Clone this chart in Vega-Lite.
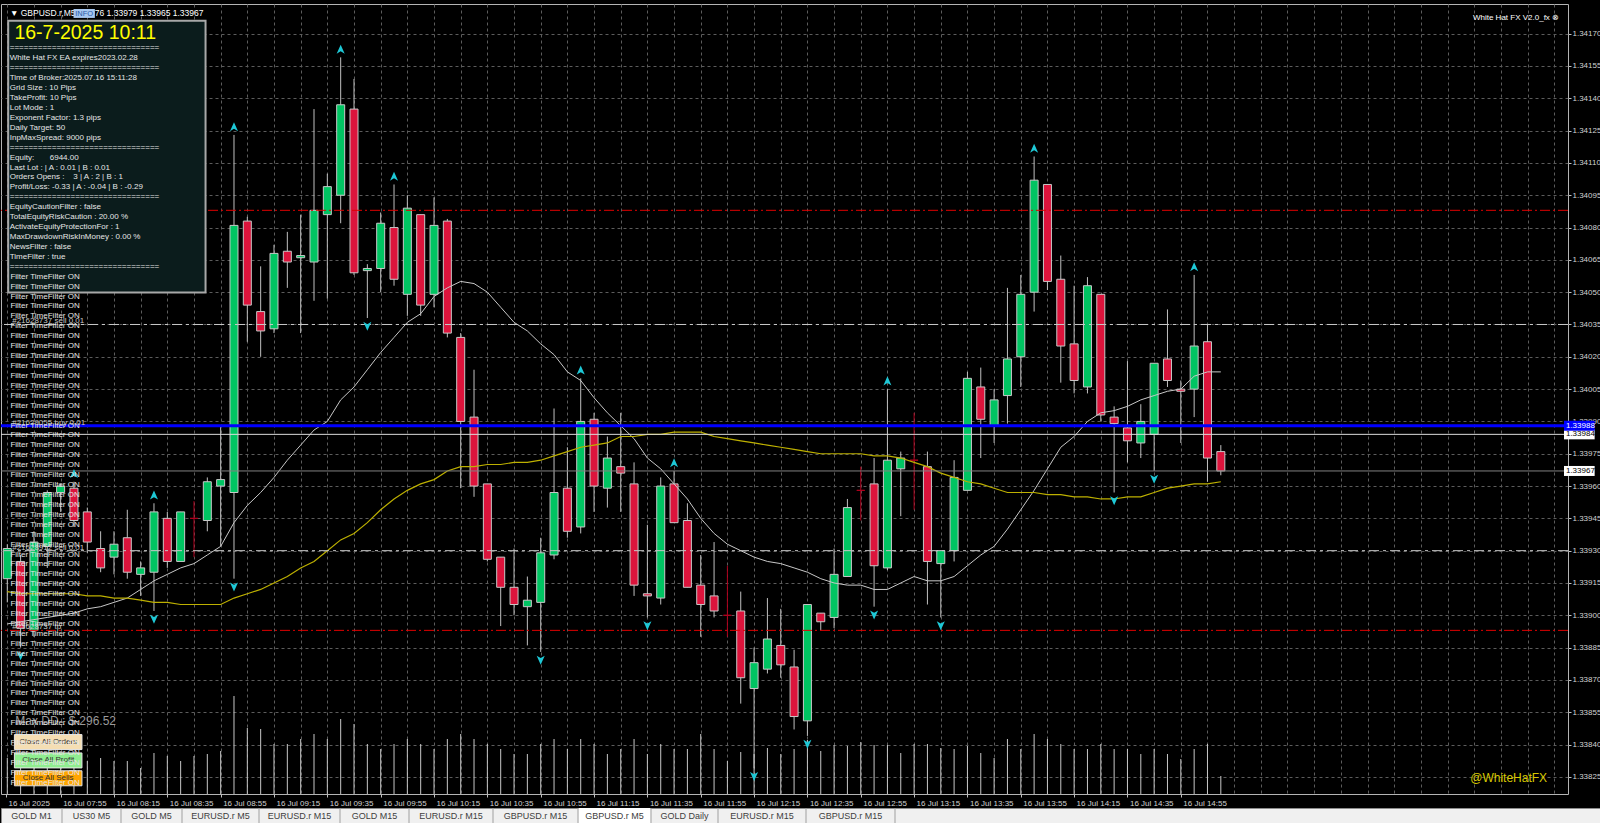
{
"$schema": "https://vega.github.io/schema/vega-lite/v6.json",
"background": "#000000",
"padding": {"left": 0, "top": 3, "right": 0, "bottom": 0},
"bounds": "flush",
"spacing": 14,
"config": {"font": "Liberation Sans", "view": {"stroke": null}},
"datasets": {
"bars": [
{"t":"2025-07-16T07:35","o":1.33917,"h":1.33933,"l":1.33906,"c":1.33931,"v":72,"mw":1.33896,"my":1.33911},
{"t":"2025-07-16T07:40","o":1.33925,"h":1.33928,"l":1.33885,"c":1.33894,"v":80,"mw":1.33897,"my":1.3391,"fd":1},
{"t":"2025-07-16T07:45","o":1.33893,"h":1.33939,"l":1.3389,"c":1.33934,"v":76,"mw":1.33898,"my":1.3391},
{"t":"2025-07-16T07:50","o":1.33932,"h":1.33958,"l":1.33922,"c":1.33957,"v":70,"mw":1.33899,"my":1.3391},
{"t":"2025-07-16T07:55","o":1.33957,"h":1.33961,"l":1.33948,"c":1.3396,"v":74,"mw":1.339,"my":1.3391},
{"t":"2025-07-16T08:00","o":1.33959,"h":1.33962,"l":1.33941,"c":1.33944,"v":78,"mw":1.33901,"my":1.3391,"fu":1},
{"t":"2025-07-16T08:05","o":1.33948,"h":1.3395,"l":1.33929,"c":1.33934,"v":66,"mw":1.33903,"my":1.33909},
{"t":"2025-07-16T08:10","o":1.33931,"h":1.33939,"l":1.3392,"c":1.33922,"v":72,"mw":1.33904,"my":1.33909},
{"t":"2025-07-16T08:15","o":1.33927,"h":1.33939,"l":1.33919,"c":1.33933,"v":66,"mw":1.33906,"my":1.33908},
{"t":"2025-07-16T08:20","o":1.33936,"h":1.33949,"l":1.33917,"c":1.3392,"v":66,"mw":1.33908,"my":1.33908},
{"t":"2025-07-16T08:25","o":1.33919,"h":1.33925,"l":1.33909,"c":1.33922,"v":52,"mw":1.33912,"my":1.33907},
{"t":"2025-07-16T08:30","o":1.3392,"h":1.33952,"l":1.33902,"c":1.33948,"v":82,"mw":1.33916,"my":1.33906,"fu":1,"fd":1},
{"t":"2025-07-16T08:35","o":1.33945,"h":1.33948,"l":1.33922,"c":1.33925,"v":76,"mw":1.33919,"my":1.33906},
{"t":"2025-07-16T08:40","o":1.33925,"h":1.33948,"l":1.33925,"c":1.33948,"v":66,"mw":1.33922,"my":1.33905},
{"t":"2025-07-16T08:45","o":1.33945,"h":1.33953,"l":1.33927,"c":1.33945,"v":76,"mw":1.33924,"my":1.33905},
{"t":"2025-07-16T08:50","o":1.33944,"h":1.33964,"l":1.33939,"c":1.33962,"v":80,"mw":1.33928,"my":1.33905},
{"t":"2025-07-16T08:55","o":1.3396,"h":1.33988,"l":1.33932,"c":1.33963,"v":86,"mw":1.33932,"my":1.33905},
{"t":"2025-07-16T09:00","o":1.33957,"h":1.34123,"l":1.33917,"c":1.34081,"v":196,"mw":1.33943,"my":1.33908,"fu":1,"fd":1},
{"t":"2025-07-16T09:05","o":1.34083,"h":1.34085,"l":1.34027,"c":1.34044,"v":132,"mw":1.33951,"my":1.3391},
{"t":"2025-07-16T09:10","o":1.34041,"h":1.34062,"l":1.3402,"c":1.34032,"v":130,"mw":1.33957,"my":1.33912},
{"t":"2025-07-16T09:15","o":1.34033,"h":1.34072,"l":1.34031,"c":1.34068,"v":100,"mw":1.33964,"my":1.33915},
{"t":"2025-07-16T09:20","o":1.34069,"h":1.34078,"l":1.34052,"c":1.34064,"v":100,"mw":1.33972,"my":1.33918},
{"t":"2025-07-16T09:25","o":1.34066,"h":1.34086,"l":1.34031,"c":1.34067,"v":110,"mw":1.33979,"my":1.33922},
{"t":"2025-07-16T09:30","o":1.34064,"h":1.34135,"l":1.34046,"c":1.34088,"v":120,"mw":1.33986,"my":1.33925},
{"t":"2025-07-16T09:35","o":1.34086,"h":1.34105,"l":1.34047,"c":1.34099,"v":110,"mw":1.3399,"my":1.3393},
{"t":"2025-07-16T09:40","o":1.34095,"h":1.34159,"l":1.34082,"c":1.34137,"v":150,"mw":1.34,"my":1.33935,"fu":1},
{"t":"2025-07-16T09:45","o":1.34135,"h":1.34149,"l":1.34058,"c":1.34059,"v":140,"mw":1.34006,"my":1.33938},
{"t":"2025-07-16T09:50","o":1.3406,"h":1.34063,"l":1.34038,"c":1.34061,"v":100,"mw":1.34014,"my":1.33943,"fd":1},
{"t":"2025-07-16T09:55","o":1.34061,"h":1.34087,"l":1.3405,"c":1.34082,"v":90,"mw":1.34022,"my":1.33949},
{"t":"2025-07-16T10:00","o":1.3408,"h":1.341,"l":1.34053,"c":1.34056,"v":100,"mw":1.34029,"my":1.33954,"fu":1},
{"t":"2025-07-16T10:05","o":1.34049,"h":1.34095,"l":1.34039,"c":1.34089,"v":110,"mw":1.34036,"my":1.33958},
{"t":"2025-07-16T10:10","o":1.34086,"h":1.34086,"l":1.34039,"c":1.34044,"v":100,"mw":1.3404,"my":1.33961},
{"t":"2025-07-16T10:15","o":1.34049,"h":1.34094,"l":1.34043,"c":1.34081,"v":90,"mw":1.34048,"my":1.33963},
{"t":"2025-07-16T10:20","o":1.34083,"h":1.34084,"l":1.34029,"c":1.34031,"v":110,"mw":1.34052,"my":1.33967},
{"t":"2025-07-16T10:25","o":1.34029,"h":1.34031,"l":1.33959,"c":1.3399,"v":120,"mw":1.34055,"my":1.33969},
{"t":"2025-07-16T10:30","o":1.33992,"h":1.34014,"l":1.33955,"c":1.3396,"v":110,"mw":1.34054,"my":1.33969},
{"t":"2025-07-16T10:35","o":1.33961,"h":1.33961,"l":1.33925,"c":1.33926,"v":100,"mw":1.3405,"my":1.3397},
{"t":"2025-07-16T10:40","o":1.33927,"h":1.33927,"l":1.33895,"c":1.33913,"v":90,"mw":1.34043,"my":1.3397},
{"t":"2025-07-16T10:45","o":1.33913,"h":1.33931,"l":1.339,"c":1.33905,"v":80,"mw":1.34036,"my":1.33971},
{"t":"2025-07-16T10:50","o":1.33904,"h":1.33918,"l":1.33886,"c":1.33907,"v":80,"mw":1.34032,"my":1.33971},
{"t":"2025-07-16T10:55","o":1.33906,"h":1.33936,"l":1.33883,"c":1.33929,"v":100,"mw":1.34026,"my":1.33972,"fd":1},
{"t":"2025-07-16T11:00","o":1.33928,"h":1.33996,"l":1.33926,"c":1.33957,"v":110,"mw":1.34021,"my":1.33974},
{"t":"2025-07-16T11:05","o":1.33959,"h":1.33978,"l":1.33936,"c":1.33939,"v":90,"mw":1.34013,"my":1.33976},
{"t":"2025-07-16T11:10","o":1.33941,"h":1.3401,"l":1.33938,"c":1.3399,"v":110,"mw":1.34009,"my":1.33978,"fu":1},
{"t":"2025-07-16T11:15","o":1.33991,"h":1.33994,"l":1.33948,"c":1.3396,"v":100,"mw":1.34001,"my":1.33979},
{"t":"2025-07-16T11:20","o":1.33959,"h":1.33983,"l":1.3395,"c":1.33973,"v":80,"mw":1.33994,"my":1.3398},
{"t":"2025-07-16T11:25","o":1.33969,"h":1.33994,"l":1.33948,"c":1.33966,"v":90,"mw":1.33988,"my":1.33983},
{"t":"2025-07-16T11:30","o":1.33961,"h":1.33971,"l":1.33909,"c":1.33914,"v":110,"mw":1.33982,"my":1.33983},
{"t":"2025-07-16T11:35","o":1.3391,"h":1.33942,"l":1.33899,"c":1.33909,"v":80,"mw":1.33973,"my":1.33984,"fd":1},
{"t":"2025-07-16T11:40","o":1.33908,"h":1.33964,"l":1.33905,"c":1.3396,"v":100,"mw":1.33968,"my":1.33984},
{"t":"2025-07-16T11:45","o":1.33961,"h":1.33967,"l":1.33943,"c":1.33943,"v":90,"mw":1.33961,"my":1.33985,"fu":1},
{"t":"2025-07-16T11:50","o":1.33944,"h":1.33952,"l":1.33913,"c":1.33913,"v":90,"mw":1.33954,"my":1.33985},
{"t":"2025-07-16T11:55","o":1.33914,"h":1.33928,"l":1.3389,"c":1.33905,"v":120,"mw":1.33945,"my":1.33985},
{"t":"2025-07-16T12:00","o":1.33909,"h":1.33934,"l":1.33899,"c":1.33902,"v":90,"mw":1.33938,"my":1.33983},
{"t":"2025-07-16T12:05","o":1.339,"h":1.33923,"l":1.3389,"c":1.339,"v":66,"mw":1.33933,"my":1.33982},
{"t":"2025-07-16T12:10","o":1.33902,"h":1.33911,"l":1.33859,"c":1.33871,"v":84,"mw":1.3393,"my":1.33981},
{"t":"2025-07-16T12:15","o":1.33866,"h":1.33885,"l":1.33829,"c":1.33878,"v":80,"mw":1.33927,"my":1.3398,"fd":1},
{"t":"2025-07-16T12:20","o":1.33875,"h":1.33908,"l":1.33873,"c":1.33889,"v":92,"mw":1.33925,"my":1.33979},
{"t":"2025-07-16T12:25","o":1.33886,"h":1.33903,"l":1.33871,"c":1.33877,"v":80,"mw":1.33924,"my":1.33978},
{"t":"2025-07-16T12:30","o":1.33876,"h":1.33884,"l":1.33847,"c":1.33853,"v":90,"mw":1.33922,"my":1.33977},
{"t":"2025-07-16T12:35","o":1.33851,"h":1.33905,"l":1.33844,"c":1.33905,"v":108,"mw":1.3392,"my":1.33976,"fd":1},
{"t":"2025-07-16T12:40","o":1.33901,"h":1.33901,"l":1.33893,"c":1.33897,"v":86,"mw":1.33917,"my":1.33975},
{"t":"2025-07-16T12:45","o":1.33899,"h":1.33931,"l":1.33894,"c":1.33919,"v":98,"mw":1.33915,"my":1.33975},
{"t":"2025-07-16T12:50","o":1.33918,"h":1.33954,"l":1.33918,"c":1.3395,"v":96,"mw":1.33914,"my":1.33975},
{"t":"2025-07-16T12:55","o":1.33958,"h":1.33969,"l":1.33944,"c":1.33958,"v":104,"mw":1.33914,"my":1.33975},
{"t":"2025-07-16T13:00","o":1.33961,"h":1.33973,"l":1.33904,"c":1.33923,"v":98,"mw":1.33912,"my":1.33974,"fd":1},
{"t":"2025-07-16T13:05","o":1.33922,"h":1.34005,"l":1.33921,"c":1.33972,"v":98,"mw":1.33912,"my":1.33974,"fu":1},
{"t":"2025-07-16T13:10","o":1.33968,"h":1.33976,"l":1.33946,"c":1.33973,"v":82,"mw":1.33915,"my":1.33973},
{"t":"2025-07-16T13:15","o":1.33972,"h":1.33994,"l":1.33949,"c":1.33972,"v":100,"mw":1.33918,"my":1.33971},
{"t":"2025-07-16T13:20","o":1.33969,"h":1.33976,"l":1.33905,"c":1.33925,"v":100,"mw":1.33916,"my":1.33969},
{"t":"2025-07-16T13:25","o":1.33924,"h":1.3393,"l":1.33899,"c":1.3393,"v":92,"mw":1.33916,"my":1.33966,"fd":1},
{"t":"2025-07-16T13:30","o":1.3393,"h":1.33972,"l":1.33925,"c":1.33964,"v":90,"mw":1.33918,"my":1.33964},
{"t":"2025-07-16T13:35","o":1.33958,"h":1.34013,"l":1.33958,"c":1.3401,"v":96,"mw":1.33923,"my":1.33962},
{"t":"2025-07-16T13:40","o":1.34006,"h":1.34015,"l":1.33973,"c":1.33991,"v":82,"mw":1.33928,"my":1.33961},
{"t":"2025-07-16T13:45","o":1.33988,"h":1.34005,"l":1.3398,"c":1.34,"v":72,"mw":1.33932,"my":1.33959},
{"t":"2025-07-16T13:50","o":1.34002,"h":1.34052,"l":1.33989,"c":1.34019,"v":110,"mw":1.3394,"my":1.33957},
{"t":"2025-07-16T13:55","o":1.3402,"h":1.34058,"l":1.34006,"c":1.34049,"v":90,"mw":1.33949,"my":1.33957},
{"t":"2025-07-16T14:00","o":1.3405,"h":1.34113,"l":1.34041,"c":1.34102,"v":120,"mw":1.33958,"my":1.33957,"fu":1},
{"t":"2025-07-16T14:05","o":1.341,"h":1.341,"l":1.34051,"c":1.34055,"v":110,"mw":1.33968,"my":1.33956},
{"t":"2025-07-16T14:10","o":1.34056,"h":1.34067,"l":1.34008,"c":1.34025,"v":100,"mw":1.33978,"my":1.33956},
{"t":"2025-07-16T14:15","o":1.34026,"h":1.34053,"l":1.34003,"c":1.34009,"v":90,"mw":1.33983,"my":1.33955},
{"t":"2025-07-16T14:20","o":1.34006,"h":1.34057,"l":1.34003,"c":1.34053,"v":90,"mw":1.3399,"my":1.33955},
{"t":"2025-07-16T14:25","o":1.34049,"h":1.34049,"l":1.3399,"c":1.33993,"v":100,"mw":1.33994,"my":1.33954},
{"t":"2025-07-16T14:30","o":1.33992,"h":1.33997,"l":1.33957,"c":1.33989,"v":90,"mw":1.33995,"my":1.33954,"fd":1},
{"t":"2025-07-16T14:35","o":1.33987,"h":1.34018,"l":1.33971,"c":1.33981,"v":90,"mw":1.33997,"my":1.33955},
{"t":"2025-07-16T14:40","o":1.3398,"h":1.33998,"l":1.33973,"c":1.3399,"v":80,"mw":1.34,"my":1.33955},
{"t":"2025-07-16T14:45","o":1.33984,"h":1.34017,"l":1.33967,"c":1.34017,"v":90,"mw":1.34002,"my":1.33957,"fd":1},
{"t":"2025-07-16T14:50","o":1.34019,"h":1.34042,"l":1.34006,"c":1.34009,"v":80,"mw":1.34004,"my":1.33959},
{"t":"2025-07-16T14:55","o":1.34005,"h":1.34009,"l":1.3398,"c":1.34004,"v":70,"mw":1.34005,"my":1.3396},
{"t":"2025-07-16T15:00","o":1.34005,"h":1.34058,"l":1.33992,"c":1.34025,"v":90,"mw":1.34011,"my":1.33961,"fu":1},
{"t":"2025-07-16T15:05","o":1.34027,"h":1.34035,"l":1.33962,"c":1.33973,"v":100,"mw":1.34013,"my":1.33961},
{"t":"2025-07-16T15:10","o":1.33976,"h":1.33979,"l":1.33965,"c":1.33967,"v":36,"mw":1.34013,"my":1.33962}
],
"levels": [
{"p":1.34088,"role":"tp"},
{"p":1.33893,"role":"tp"},
{"p":1.34035,"role":"order"},
{"p":1.3393,"role":"order"},
{"p":1.33984,"role":"avg"},
{"p":1.33967,"role":"bid"},
{"p":1.33988,"role":"buy"}
],
"panel": [
{"line":0,"text":"================================"},
{"line":1,"text":"White Hat FX EA expires2023.02.28"},
{"line":2,"text":"================================"},
{"line":3,"text":"\u00a0\u00a0Time of Broker:2025.07.16 15:11:28"},
{"line":4,"text":"\u00a0\u00a0Grid Size : 10 Pips"},
{"line":5,"text":"\u00a0\u00a0TakeProfit: 10 Pips"},
{"line":6,"text":"\u00a0\u00a0Lot Mode : 1"},
{"line":7,"text":"\u00a0\u00a0Exponent Factor: 1.3 pips"},
{"line":8,"text":"\u00a0\u00a0Daily Target: 50"},
{"line":9,"text":"\u00a0\u00a0InpMaxSpread: 9000 pips"},
{"line":10,"text":"================================"},
{"line":11,"text":"\u00a0\u00a0Equity:\u00a0\u00a0\u00a0\u00a0\u00a0\u00a0\u00a06944.00"},
{"line":12,"text":"\u00a0\u00a0Last Lot : | A : 0.01 | B : 0.01"},
{"line":13,"text":"\u00a0\u00a0Orders Opens :\u00a0\u00a0\u00a0\u00a03 | A : 2 | B : 1"},
{"line":14,"text":"\u00a0\u00a0Profit/Loss: -0.33 | A : -0.04 | B : -0.29"},
{"line":15,"text":"================================"},
{"line":16,"text":"\u00a0EquityCautionFilter : false"},
{"line":17,"text":"\u00a0TotalEquityRiskCaution : 20.00 %"},
{"line":18,"text":"\u00a0ActivateEquityProtectionFor : 1"},
{"line":19,"text":"\u00a0MaxDrawdownRiskInMoney : 0.00 %"},
{"line":20,"text":"\u00a0NewsFilter : false"},
{"line":21,"text":"\u00a0TimeFilter : true"},
{"line":22,"text":"================================"}
],
"filters": [
{"line":23,"text":"Filter TimeFilter ON"},{"line":24,"text":"Filter TimeFilter ON"},{"line":25,"text":"Filter TimeFilter ON"},{"line":26,"text":"Filter TimeFilter ON"},
{"line":27,"text":"Filter TimeFilter ON"},{"line":28,"text":"Filter TimeFilter ON"},{"line":29,"text":"Filter TimeFilter ON"},{"line":30,"text":"Filter TimeFilter ON"},
{"line":31,"text":"Filter TimeFilter ON"},{"line":32,"text":"Filter TimeFilter ON"},{"line":33,"text":"Filter TimeFilter ON"},{"line":34,"text":"Filter TimeFilter ON"},
{"line":35,"text":"Filter TimeFilter ON"},{"line":36,"text":"Filter TimeFilter ON"},{"line":37,"text":"Filter TimeFilter ON"},{"line":38,"text":"Filter TimeFilter ON"},
{"line":39,"text":"Filter TimeFilter ON"},{"line":40,"text":"Filter TimeFilter ON"},{"line":41,"text":"Filter TimeFilter ON"},{"line":42,"text":"Filter TimeFilter ON"},
{"line":43,"text":"Filter TimeFilter ON"},{"line":44,"text":"Filter TimeFilter ON"},{"line":45,"text":"Filter TimeFilter ON"},{"line":46,"text":"Filter TimeFilter ON"},
{"line":47,"text":"Filter TimeFilter ON"},{"line":48,"text":"Filter TimeFilter ON"},{"line":49,"text":"Filter TimeFilter ON"},{"line":50,"text":"Filter TimeFilter ON"},
{"line":51,"text":"Filter TimeFilter ON"},{"line":52,"text":"Filter TimeFilter ON"},{"line":53,"text":"Filter TimeFilter ON"},{"line":54,"text":"Filter TimeFilter ON"},
{"line":55,"text":"Filter TimeFilter ON"},{"line":56,"text":"Filter TimeFilter ON"},{"line":57,"text":"Filter TimeFilter ON"},{"line":58,"text":"Filter TimeFilter ON"},
{"line":59,"text":"Filter TimeFilter ON"},{"line":60,"text":"Filter TimeFilter ON"},{"line":61,"text":"Filter TimeFilter ON"},{"line":62,"text":"Filter TimeFilter ON"},
{"line":63,"text":"Filter TimeFilter ON"},{"line":64,"text":"Filter TimeFilter ON"},{"line":65,"text":"Filter TimeFilter ON"},{"line":66,"text":"Filter TimeFilter ON"},
{"line":67,"text":"Filter TimeFilter ON"},{"line":68,"text":"Filter TimeFilter ON"},{"line":69,"text":"Filter TimeFilter ON"},{"line":70,"text":"Filter TimeFilter ON"},
{"line":71,"text":"Filter TimeFilter ON"},{"line":72,"text":"Filter TimeFilter ON"},{"line":73,"text":"Filter TimeFilter ON"},{"line":74,"text":"Filter TimeFilter ON"}
]
},
"vconcat": [
{
"width": 1567,
"height": 790,
"view": {"fill": "#000000", "stroke": "#b4b4b4"},
"resolve": {"scale": {"y": "independent"}, "axis": {"x": "independent"}},
"layer": [
{
"data": {"name": "bars"},
"mark": {"type": "rule", "clip": true, "color": "#c8c8c8", "strokeWidth": 1},
"encoding": {
"x": {"field": "t", "type": "temporal", "axis": null, "scale": {"nice": false, "domain": [{"year":2025,"month":7,"date":16,"hours":7,"minutes":34,"seconds":31},{"year":2025,"month":7,"date":16,"hours":17,"minutes":18,"seconds":18}]}},
"y": {"field": "v", "type": "quantitative", "axis": null, "scale": {"domain": [0, 1580], "nice": false}},
"y2": {"datum": 0}
}
},
{
"data": {"name": "bars"},
"resolve": {"axis": {"x": "independent", "y": "independent"}},
"layer": [
{
"mark": {"type": "rule", "clip": true, "strokeWidth": 1},
"encoding": {
"x": {"field": "t", "type": "temporal",
"scale": {"nice": false, "domain": [{"year":2025,"month":7,"date":16,"hours":7,"minutes":34,"seconds":31},{"year":2025,"month":7,"date":16,"hours":17,"minutes":18,"seconds":18}]},
"axis": {
"orient": "bottom", "title": null, "domain": false, "grid": false,
"values": [
{"year":2025,"month":7,"date":16,"hours":7,"minutes":34,"seconds":31},
{"year":2025,"month":7,"date":16,"hours":7,"minutes":55},{"year":2025,"month":7,"date":16,"hours":8,"minutes":15},{"year":2025,"month":7,"date":16,"hours":8,"minutes":35},{"year":2025,"month":7,"date":16,"hours":8,"minutes":55},
{"year":2025,"month":7,"date":16,"hours":9,"minutes":15},{"year":2025,"month":7,"date":16,"hours":9,"minutes":35},{"year":2025,"month":7,"date":16,"hours":9,"minutes":55},
{"year":2025,"month":7,"date":16,"hours":10,"minutes":15},{"year":2025,"month":7,"date":16,"hours":10,"minutes":35},{"year":2025,"month":7,"date":16,"hours":10,"minutes":55},
{"year":2025,"month":7,"date":16,"hours":11,"minutes":15},{"year":2025,"month":7,"date":16,"hours":11,"minutes":35},{"year":2025,"month":7,"date":16,"hours":11,"minutes":55},
{"year":2025,"month":7,"date":16,"hours":12,"minutes":15},{"year":2025,"month":7,"date":16,"hours":12,"minutes":35},{"year":2025,"month":7,"date":16,"hours":12,"minutes":55},
{"year":2025,"month":7,"date":16,"hours":13,"minutes":15},{"year":2025,"month":7,"date":16,"hours":13,"minutes":35},{"year":2025,"month":7,"date":16,"hours":13,"minutes":55},
{"year":2025,"month":7,"date":16,"hours":14,"minutes":15},{"year":2025,"month":7,"date":16,"hours":14,"minutes":35},{"year":2025,"month":7,"date":16,"hours":14,"minutes":55}
],
"labelExpr": "seconds(datum.value) == 31 ? timeFormat(datum.value, '%d %b %Y') : timeFormat(datum.value, '%d %b %H:%M')",
"labelAlign": "left", "labelBaseline": "top", "labelPadding": 2, "labelOffset": 2,
"labelColor": "#d2d2d2", "labelFont": "Liberation Sans Narrow, Liberation Sans", "labelFontSize": 8,
"labelOverlap": false, "labelFlush": false, "labelBound": false,
"ticks": true, "tickSize": 3, "tickColor": "#c0c0c0",
"minExtent": 14, "maxExtent": 14
}
},
"y": {"field": "l", "type": "quantitative",
"scale": {"domain": [1.3381936, 1.3418146], "nice": false, "zero": false},
"axis": {
"orient": "right", "title": null, "domain": false, "format": ".5f",
"values": [1.3417, 1.34155, 1.3414, 1.34125, 1.3411, 1.34095, 1.3408, 1.34065, 1.3405, 1.34035, 1.3402, 1.34005, 1.3399, 1.33975, 1.3396, 1.33945, 1.3393, 1.33915, 1.339, 1.33885, 1.3387, 1.33855, 1.3384, 1.33825],
"grid": true, "gridColor": "#5c5c5c", "gridDash": [3, 3], "gridWidth": 1,
"ticks": true, "tickSize": 3, "tickColor": "#c0c0c0",
"labelColor": "#d2d2d2", "labelFont": "Liberation Sans", "labelFontSize": 8, "labelPadding": 1,
"labelAlign": "left", "labelBaseline": "middle", "labelOverlap": false, "labelFlush": false, "labelBound": false,
"minExtent": 33, "maxExtent": 33
}
},
"y2": {"field": "h"},
"color": {"condition": {"test": "datum.o == datum.c", "value": "#b0001e"}, "value": "#c0c0c0"}
}
},
{
"mark": {"type": "bar", "clip": true, "width": 8, "strokeWidth": 1},
"encoding": {
"x": {"field": "t", "type": "temporal", "scale": {"nice": false, "domain": [{"year":2025,"month":7,"date":16,"hours":7,"minutes":34,"seconds":31},{"year":2025,"month":7,"date":16,"hours":17,"minutes":18,"seconds":18}]},
"axis": {
"orient": "bottom", "title": null, "domain": false, "labels": false, "ticks": false,
"grid": true, "gridColor": "#5c5c5c", "gridDash": [3, 3], "gridWidth": 1,
"minExtent": 0, "maxExtent": 0,
"values": [
{"year":2025,"month":7,"date":16,"hours":7,"minutes":35},{"year":2025,"month":7,"date":16,"hours":7,"minutes":45},{"year":2025,"month":7,"date":16,"hours":7,"minutes":55},
{"year":2025,"month":7,"date":16,"hours":8,"minutes":5},{"year":2025,"month":7,"date":16,"hours":8,"minutes":15},{"year":2025,"month":7,"date":16,"hours":8,"minutes":25},{"year":2025,"month":7,"date":16,"hours":8,"minutes":35},{"year":2025,"month":7,"date":16,"hours":8,"minutes":45},{"year":2025,"month":7,"date":16,"hours":8,"minutes":55},
{"year":2025,"month":7,"date":16,"hours":9,"minutes":5},{"year":2025,"month":7,"date":16,"hours":9,"minutes":15},{"year":2025,"month":7,"date":16,"hours":9,"minutes":25},{"year":2025,"month":7,"date":16,"hours":9,"minutes":35},{"year":2025,"month":7,"date":16,"hours":9,"minutes":45},{"year":2025,"month":7,"date":16,"hours":9,"minutes":55},
{"year":2025,"month":7,"date":16,"hours":10,"minutes":5},{"year":2025,"month":7,"date":16,"hours":10,"minutes":15},{"year":2025,"month":7,"date":16,"hours":10,"minutes":25},{"year":2025,"month":7,"date":16,"hours":10,"minutes":35},{"year":2025,"month":7,"date":16,"hours":10,"minutes":45},{"year":2025,"month":7,"date":16,"hours":10,"minutes":55},
{"year":2025,"month":7,"date":16,"hours":11,"minutes":5},{"year":2025,"month":7,"date":16,"hours":11,"minutes":15},{"year":2025,"month":7,"date":16,"hours":11,"minutes":25},{"year":2025,"month":7,"date":16,"hours":11,"minutes":35},{"year":2025,"month":7,"date":16,"hours":11,"minutes":45},{"year":2025,"month":7,"date":16,"hours":11,"minutes":55},
{"year":2025,"month":7,"date":16,"hours":12,"minutes":5},{"year":2025,"month":7,"date":16,"hours":12,"minutes":15},{"year":2025,"month":7,"date":16,"hours":12,"minutes":25},{"year":2025,"month":7,"date":16,"hours":12,"minutes":35},{"year":2025,"month":7,"date":16,"hours":12,"minutes":45},{"year":2025,"month":7,"date":16,"hours":12,"minutes":55},
{"year":2025,"month":7,"date":16,"hours":13,"minutes":5},{"year":2025,"month":7,"date":16,"hours":13,"minutes":15},{"year":2025,"month":7,"date":16,"hours":13,"minutes":25},{"year":2025,"month":7,"date":16,"hours":13,"minutes":35},{"year":2025,"month":7,"date":16,"hours":13,"minutes":45},{"year":2025,"month":7,"date":16,"hours":13,"minutes":55},
{"year":2025,"month":7,"date":16,"hours":14,"minutes":5},{"year":2025,"month":7,"date":16,"hours":14,"minutes":15},{"year":2025,"month":7,"date":16,"hours":14,"minutes":25},{"year":2025,"month":7,"date":16,"hours":14,"minutes":35},{"year":2025,"month":7,"date":16,"hours":14,"minutes":45},{"year":2025,"month":7,"date":16,"hours":14,"minutes":55},
{"year":2025,"month":7,"date":16,"hours":15,"minutes":5},{"year":2025,"month":7,"date":16,"hours":15,"minutes":15},{"year":2025,"month":7,"date":16,"hours":15,"minutes":25},{"year":2025,"month":7,"date":16,"hours":15,"minutes":35},{"year":2025,"month":7,"date":16,"hours":15,"minutes":45},{"year":2025,"month":7,"date":16,"hours":15,"minutes":55},
{"year":2025,"month":7,"date":16,"hours":16,"minutes":5},{"year":2025,"month":7,"date":16,"hours":16,"minutes":15},{"year":2025,"month":7,"date":16,"hours":16,"minutes":25},{"year":2025,"month":7,"date":16,"hours":16,"minutes":35},{"year":2025,"month":7,"date":16,"hours":16,"minutes":45},{"year":2025,"month":7,"date":16,"hours":16,"minutes":55},
{"year":2025,"month":7,"date":16,"hours":17,"minutes":5},{"year":2025,"month":7,"date":16,"hours":17,"minutes":15}
]
}},
"y": {"field": "o", "type": "quantitative", "axis": null, "scale": {"domain": [1.3381936, 1.3418146], "nice": false, "zero": false}},
"y2": {"field": "c"},
"fill": {"condition": [{"test": "datum.c > datum.o", "value": "#00c462"}, {"test": "datum.c < datum.o", "value": "#dc143c"}], "value": "#b0001e"},
"stroke": {"condition": {"test": "datum.o == datum.c", "value": "#b0001e"}, "value": "#c8c8c8"}
}
},
{
"mark": {"type": "line", "clip": true, "color": "#c8c8c8", "strokeWidth": 1},
"encoding": {
"x": {"field": "t", "type": "temporal", "axis": null, "scale": {"nice": false, "domain": [{"year":2025,"month":7,"date":16,"hours":7,"minutes":34,"seconds":31},{"year":2025,"month":7,"date":16,"hours":17,"minutes":18,"seconds":18}]}},
"y": {"field": "mw", "type": "quantitative", "axis": null, "scale": {"domain": [1.3381936, 1.3418146], "nice": false, "zero": false}}
}
},
{
"mark": {"type": "line", "clip": true, "color": "#bdb000", "strokeWidth": 1.2},
"encoding": {
"x": {"field": "t", "type": "temporal", "axis": null, "scale": {"nice": false, "domain": [{"year":2025,"month":7,"date":16,"hours":7,"minutes":34,"seconds":31},{"year":2025,"month":7,"date":16,"hours":17,"minutes":18,"seconds":18}]}},
"y": {"field": "my", "type": "quantitative", "axis": null, "scale": {"domain": [1.3381936, 1.3418146], "nice": false, "zero": false}}
}
},
{
"data": {"name": "levels"},
"mark": {"type": "rule", "clip": true},
"encoding": {
"y": {"field": "p", "type": "quantitative", "axis": null, "scale": {"domain": [1.3381936, 1.3418146], "nice": false, "zero": false}},
"color": {"field": "role", "type": "nominal", "legend": null, "scale": {"domain": ["tp", "order", "buy", "avg", "bid"], "range": ["#e00000", "#c8c8c8", "#0000ff", "#dcdcdc", "#808080"]}},
"strokeDash": {"condition": [{"test": "datum.role == 'tp'", "value": [10, 3, 2, 3]}, {"test": "datum.role == 'order'", "value": [10, 4, 3, 4]}], "value": [1, 0]},
"strokeWidth": {"condition": {"test": "datum.role == 'buy'", "value": 3}, "value": 1}
}
},
{
"transform": [{"filter": "datum.fu == 1"}],
"mark": {"type": "point", "filled": true, "color": "#1ec8d6", "size": 90, "yOffset": -8, "shape": "M0,-1L0.85,0.9L0,0.4L-0.85,0.9Z", "opacity": 1},
"encoding": {
"x": {"field": "t", "type": "temporal", "axis": null, "scale": {"nice": false, "domain": [{"year":2025,"month":7,"date":16,"hours":7,"minutes":34,"seconds":31},{"year":2025,"month":7,"date":16,"hours":17,"minutes":18,"seconds":18}]}},
"y": {"field": "h", "type": "quantitative", "axis": null, "scale": {"domain": [1.3381936, 1.3418146], "nice": false, "zero": false}}
}
},
{
"transform": [{"filter": "datum.fd == 1"}],
"mark": {"type": "point", "filled": true, "color": "#1ec8d6", "size": 90, "yOffset": 8, "shape": "M0,1L0.85,-0.9L0,-0.4L-0.85,-0.9Z", "opacity": 1},
"encoding": {
"x": {"field": "t", "type": "temporal", "axis": null, "scale": {"nice": false, "domain": [{"year":2025,"month":7,"date":16,"hours":7,"minutes":34,"seconds":31},{"year":2025,"month":7,"date":16,"hours":17,"minutes":18,"seconds":18}]}},
"y": {"field": "l", "type": "quantitative", "axis": null, "scale": {"domain": [1.3381936, 1.3418146], "nice": false, "zero": false}}
}
},
{
"data": {"values": [
{"p": 1.34035, "label": "#21628737 sell 0.01"},
{"p": 1.33988, "label": "#21629055 buy 0.01"},
{"p": 1.3393, "label": "#21628912 sell 0.01"},
{"p": 1.33893, "label": "#21628737 tp"}
]},
"mark": {"type": "text", "align": "left", "baseline": "alphabetic", "dy": -1, "fontSize": 8, "color": "#c8c8c8"},
"encoding": {
"x": {"datum": {"year":2025,"month":7,"date":16,"hours":7,"minutes":36,"seconds":50}, "type": "temporal", "axis": null, "scale": {"nice": false, "domain": [{"year":2025,"month":7,"date":16,"hours":7,"minutes":34,"seconds":31},{"year":2025,"month":7,"date":16,"hours":17,"minutes":18,"seconds":18}]}},
"y": {"field": "p", "type": "quantitative", "axis": null, "scale": {"domain": [1.3381936, 1.3418146], "nice": false, "zero": false}},
"text": {"field": "label"}
}
},
{
"data": {"name": "levels"},
"transform": [{"filter": "datum.role == 'buy' || datum.role == 'avg' || datum.role == 'bid'"}],
"mark": {"type": "bar", "height": 10},
"encoding": {
"x": {"datum": {"year":2025,"month":7,"date":16,"hours":17,"minutes":18,"seconds":40}, "type": "temporal", "axis": null, "scale": {"nice": false, "domain": [{"year":2025,"month":7,"date":16,"hours":7,"minutes":34,"seconds":31},{"year":2025,"month":7,"date":16,"hours":17,"minutes":18,"seconds":18}]}},
"x2": {"datum": {"year":2025,"month":7,"date":16,"hours":17,"minutes":30,"seconds":10}},
"y": {"field": "p", "type": "quantitative", "axis": null, "scale": {"domain": [1.3381936, 1.3418146], "nice": false, "zero": false}},
"fill": {"condition": {"test": "datum.role == 'buy'", "value": "#0000ff"}, "value": "#ffffff"}
}
},
{
"data": {"name": "levels"},
"transform": [{"filter": "datum.role == 'buy' || datum.role == 'avg' || datum.role == 'bid'"}],
"mark": {"type": "text", "align": "left", "baseline": "middle", "fontSize": 8},
"encoding": {
"x": {"datum": {"year":2025,"month":7,"date":16,"hours":17,"minutes":19,"seconds":24}, "type": "temporal", "axis": null, "scale": {"nice": false, "domain": [{"year":2025,"month":7,"date":16,"hours":7,"minutes":34,"seconds":31},{"year":2025,"month":7,"date":16,"hours":17,"minutes":18,"seconds":18}]}},
"y": {"field": "p", "type": "quantitative", "axis": null, "scale": {"domain": [1.3381936, 1.3418146], "nice": false, "zero": false}},
"text": {"field": "p", "type": "quantitative", "format": ".5f"},
"color": {"condition": {"test": "datum.role == 'buy'", "value": "#ffffff"}, "value": "#000000"}
}
}
]
},
{
"layer": [
{
"data": {"values": [{}]},
"mark": {"type": "rect", "fill": "#0b1c1c", "stroke": "#a8a8a8", "strokeWidth": 2},
"encoding": {
"x": {"datum": {"year":2025,"month":7,"date":16,"hours":7,"minutes":35,"seconds":20}, "type": "temporal", "axis": null, "scale": {"nice": false, "domain": [{"year":2025,"month":7,"date":16,"hours":7,"minutes":34,"seconds":31},{"year":2025,"month":7,"date":16,"hours":17,"minutes":18,"seconds":18}]}},
"x2": {"datum": {"year":2025,"month":7,"date":16,"hours":8,"minutes":49,"seconds":20}},
"y": {"datum": -2.79, "type": "quantitative", "axis": null, "scale": {"domain": [74.63, -3.98], "nice": false, "zero": false}},
"y2": {"datum": 24.58}
}
},
{
"data": {"name": "panel"},
"mark": {"type": "text", "align": "left", "baseline": "middle", "fontSize": 8, "color": "#e6e6e6"},
"encoding": {
"x": {"datum": {"year":2025,"month":7,"date":16,"hours":7,"minutes":35,"seconds":55}, "type": "temporal", "axis": null, "scale": {"nice": false, "domain": [{"year":2025,"month":7,"date":16,"hours":7,"minutes":34,"seconds":31},{"year":2025,"month":7,"date":16,"hours":17,"minutes":18,"seconds":18}]}},
"y": {"field": "line", "type": "quantitative", "axis": null, "scale": {"domain": [74.63, -3.98], "nice": false, "zero": false}},
"text": {"field": "text"}
}
},
{
"data": {"values": [{"text": "16-7-2025 10:11"}]},
"mark": {"type": "text", "align": "left", "baseline": "middle", "fontSize": 19.5, "color": "#ffff00"},
"encoding": {
"x": {"datum": {"year":2025,"month":7,"date":16,"hours":7,"minutes":37,"seconds":40}, "type": "temporal", "axis": null, "scale": {"nice": false, "domain": [{"year":2025,"month":7,"date":16,"hours":7,"minutes":34,"seconds":31},{"year":2025,"month":7,"date":16,"hours":17,"minutes":18,"seconds":18}]}},
"y": {"datum": -1.59, "type": "quantitative", "axis": null, "scale": {"domain": [74.63, -3.98], "nice": false, "zero": false}},
"text": {"field": "text"}
}
},
{
"data": {"values": [{"text": "\u25bc GBPUSD.r,M5"}]},
"mark": {"type": "text", "align": "left", "baseline": "middle", "fontSize": 8.5, "color": "#ffffff"},
"encoding": {
"x": {"datum": {"year":2025,"month":7,"date":16,"hours":7,"minutes":36,"seconds":0}, "type": "temporal", "axis": null, "scale": {"nice": false, "domain": [{"year":2025,"month":7,"date":16,"hours":7,"minutes":34,"seconds":31},{"year":2025,"month":7,"date":16,"hours":17,"minutes":18,"seconds":18}]}},
"y": {"datum": -3.55, "type": "quantitative", "axis": null, "scale": {"domain": [74.63, -3.98], "nice": false, "zero": false}},
"text": {"field": "text"}
}
},
{
"data": {"values": [{"text": "1.33976 1.33979 1.33965 1.33967"}]},
"mark": {"type": "text", "align": "left", "baseline": "middle", "fontSize": 8.5, "color": "#ffffff"},
"encoding": {
"x": {"datum": {"year":2025,"month":7,"date":16,"hours":7,"minutes":59,"seconds":50}, "type": "temporal", "axis": null, "scale": {"nice": false, "domain": [{"year":2025,"month":7,"date":16,"hours":7,"minutes":34,"seconds":31},{"year":2025,"month":7,"date":16,"hours":17,"minutes":18,"seconds":18}]}},
"y": {"datum": -3.55, "type": "quantitative", "axis": null, "scale": {"domain": [74.63, -3.98], "nice": false, "zero": false}},
"text": {"field": "text"}
}
},
{
"data": {"values": [{}]},
"mark": {"type": "rect", "fill": "#a8c8f0"},
"encoding": {
"x": {"datum": {"year":2025,"month":7,"date":16,"hours":7,"minutes":59,"seconds":50}, "type": "temporal", "axis": null, "scale": {"nice": false, "domain": [{"year":2025,"month":7,"date":16,"hours":7,"minutes":34,"seconds":31},{"year":2025,"month":7,"date":16,"hours":17,"minutes":18,"seconds":18}]}},
"x2": {"datum": {"year":2025,"month":7,"date":16,"hours":8,"minutes":7,"seconds":50}},
"y": {"datum": -3.98, "type": "quantitative", "axis": null, "scale": {"domain": [74.63, -3.98], "nice": false, "zero": false}},
"y2": {"datum": -3.08}
}
},
{
"data": {"values": [{"text": "INFO"}]},
"mark": {"type": "text", "align": "center", "baseline": "middle", "fontSize": 7.5, "color": "#2a5aa8"},
"encoding": {
"x": {"datum": {"year":2025,"month":7,"date":16,"hours":8,"minutes":3,"seconds":50}, "type": "temporal", "axis": null, "scale": {"nice": false, "domain": [{"year":2025,"month":7,"date":16,"hours":7,"minutes":34,"seconds":31},{"year":2025,"month":7,"date":16,"hours":17,"minutes":18,"seconds":18}]}},
"y": {"datum": -3.5, "type": "quantitative", "axis": null, "scale": {"domain": [74.63, -3.98], "nice": false, "zero": false}},
"text": {"field": "text"}
}
},
{
"data": {"values": [{"text": "White Hat FX V2.0_fx \u2297"}]},
"mark": {"type": "text", "align": "right", "baseline": "middle", "fontSize": 8, "color": "#ffffff"},
"encoding": {
"x": {"datum": {"year":2025,"month":7,"date":16,"hours":17,"minutes":16,"seconds":50}, "type": "temporal", "axis": null, "scale": {"nice": false, "domain": [{"year":2025,"month":7,"date":16,"hours":7,"minutes":34,"seconds":31},{"year":2025,"month":7,"date":16,"hours":17,"minutes":18,"seconds":18}]}},
"y": {"datum": -3.08, "type": "quantitative", "axis": null, "scale": {"domain": [74.63, -3.98], "nice": false, "zero": false}},
"text": {"field": "text"}
}
},
{
"data": {"values": [{"text": "Max DD : $-296.52"}]},
"mark": {"type": "text", "align": "left", "baseline": "middle", "fontSize": 12, "color": "#9a9a9a"},
"encoding": {
"x": {"datum": {"year":2025,"month":7,"date":16,"hours":7,"minutes":38,"seconds":0}, "type": "temporal", "axis": null, "scale": {"nice": false, "domain": [{"year":2025,"month":7,"date":16,"hours":7,"minutes":34,"seconds":31},{"year":2025,"month":7,"date":16,"hours":17,"minutes":18,"seconds":18}]}},
"y": {"datum": 67.76, "type": "quantitative", "axis": null, "scale": {"domain": [74.63, -3.98], "nice": false, "zero": false}},
"text": {"field": "text"}
}
},
{
"data": {"values": [{"label": "Close All Orders", "line": 69.9}, {"label": "Close All Profit", "line": 71.75}, {"label": "Close All Sells", "line": 73.55}]},
"mark": {"type": "bar", "height": 15, "stroke": "#e8e8e8", "strokeWidth": 1},
"encoding": {
"x": {"datum": {"year":2025,"month":7,"date":16,"hours":7,"minutes":37,"seconds":40}, "type": "temporal", "axis": null, "scale": {"nice": false, "domain": [{"year":2025,"month":7,"date":16,"hours":7,"minutes":34,"seconds":31},{"year":2025,"month":7,"date":16,"hours":17,"minutes":18,"seconds":18}]}},
"x2": {"datum": {"year":2025,"month":7,"date":16,"hours":8,"minutes":3,"seconds":0}},
"y": {"field": "line", "type": "quantitative", "axis": null, "scale": {"domain": [74.63, -3.98], "nice": false, "zero": false}},
"fill": {"field": "label", "type": "nominal", "legend": null, "scale": {"domain": ["Close All Orders", "Close All Profit", "Close All Sells"], "range": ["#f5deb3", "#90ee90", "#ffa500"]}}
}
},
{
"data": {"values": [{"label": "Close All Orders", "line": 69.9}, {"label": "Close All Profit", "line": 71.75}, {"label": "Close All Sells", "line": 73.55}]},
"mark": {"type": "text", "align": "center", "baseline": "middle", "fontSize": 8, "color": "#303030"},
"encoding": {
"x": {"datum": {"year":2025,"month":7,"date":16,"hours":7,"minutes":50,"seconds":20}, "type": "temporal", "axis": null, "scale": {"nice": false, "domain": [{"year":2025,"month":7,"date":16,"hours":7,"minutes":34,"seconds":31},{"year":2025,"month":7,"date":16,"hours":17,"minutes":18,"seconds":18}]}},
"y": {"field": "line", "type": "quantitative", "axis": null, "scale": {"domain": [74.63, -3.98], "nice": false, "zero": false}},
"text": {"field": "label"}
}
},
{
"data": {"name": "filters"},
"mark": {"type": "text", "align": "left", "baseline": "middle", "fontSize": 8, "color": "#e6e6e6"},
"encoding": {
"x": {"datum": {"year":2025,"month":7,"date":16,"hours":7,"minutes":36,"seconds":10}, "type": "temporal", "axis": null, "scale": {"nice": false, "domain": [{"year":2025,"month":7,"date":16,"hours":7,"minutes":34,"seconds":31},{"year":2025,"month":7,"date":16,"hours":17,"minutes":18,"seconds":18}]}},
"y": {"field": "line", "type": "quantitative", "axis": null, "scale": {"domain": [74.63, -3.98], "nice": false, "zero": false}},
"text": {"field": "text"}
}
},
{
"data": {"values": [{"text": "@WhiteHatFX"}]},
"mark": {"type": "text", "align": "right", "baseline": "middle", "fontSize": 12, "color": "#d8c800"},
"encoding": {
"x": {"datum": {"year":2025,"month":7,"date":16,"hours":17,"minutes":12,"seconds":20}, "type": "temporal", "axis": null, "scale": {"nice": false, "domain": [{"year":2025,"month":7,"date":16,"hours":7,"minutes":34,"seconds":31},{"year":2025,"month":7,"date":16,"hours":17,"minutes":18,"seconds":18}]}},
"y": {"datum": 73.5, "type": "quantitative", "axis": null, "scale": {"domain": [74.63, -3.98], "nice": false, "zero": false}},
"text": {"field": "text"}
}
}
]
}
]
},
{
"width": 1600,
"height": 16,
"view": {"fill": "#f0f0f0", "stroke": "#8c8c8c"},
"data": {"values": [
{"n": 1, "tab": "GOLD M1", "active": false},
{"n": 2, "tab": "US30 M5", "active": false},
{"n": 3, "tab": "GOLD M5", "active": false},
{"n": 4, "tab": "EURUSD.r M5", "active": false},
{"n": 5, "tab": "EURUSD.r M15", "active": false},
{"n": 6, "tab": "GOLD M15", "active": false},
{"n": 7, "tab": "EURUSD.r M15", "active": false},
{"n": 8, "tab": "GBPUSD.r M15", "active": false},
{"n": 9, "tab": "GBPUSD.r M5", "active": true},
{"n": 10, "tab": "GOLD Daily", "active": false},
{"n": 11, "tab": "EURUSD.r M15", "active": false},
{"n": 12, "tab": "GBPUSD.r M15", "active": false}
]},
"resolve": {"scale": {"x": "independent"}},
"layer": [
{
"transform": [{"filter": "datum.active"}],
"mark": {"type": "rule", "color": "#ffffff", "strokeWidth": 72},
"encoding": {
"x": {"field": "n", "type": "quantitative", "axis": null, "scale": {"type": "linear", "nice": false, "zero": false, "domain": [1,2,3,4,5,6,7,8,9,10,11,12], "range": [30.5,90.5,150.5,219.5,298.5,373.5,450,534.5,613.5,683.5,761,849.5]}}
}
},
{
"mark": {"type": "rule", "color": "#a0a0a0"},
"encoding": {
"x": {"field": "n", "type": "quantitative", "axis": null, "scale": {"type": "linear", "nice": false, "zero": false, "domain": [1,2,3,4,5,6,7,8,9,10,11,12], "range": [61,120,181,258,339,408,492,577,650,717,805,894]}}
}
},
{
"mark": {"type": "text", "fontSize": 9, "color": "#404040", "baseline": "middle"},
"encoding": {
"x": {"field": "n", "type": "quantitative", "axis": null, "scale": {"type": "linear", "nice": false, "zero": false, "domain": [1,2,3,4,5,6,7,8,9,10,11,12], "range": [30.5,90.5,150.5,219.5,298.5,373.5,450,534.5,613.5,683.5,761,849.5]}},
"text": {"field": "tab"}
}
}
]
}
]
}
